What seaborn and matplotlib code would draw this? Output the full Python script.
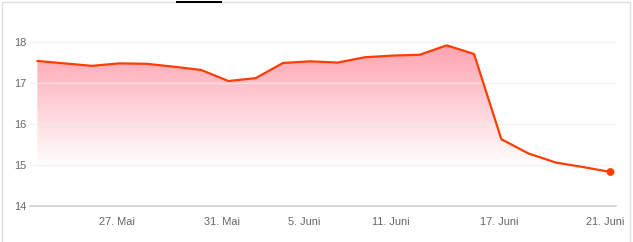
import numpy as np
import matplotlib
matplotlib.use("Agg")
import matplotlib.pyplot as plt
import seaborn as sns
from matplotlib.colors import LinearSegmentedColormap
from matplotlib.lines import Line2D
from matplotlib.patches import Rectangle

# ---- data ----
day_index = list(range(22))
prices = [17.54, 17.48, 17.42, 17.48, 17.47, 17.40, 17.32, 17.05, 17.12, 17.49,
          17.53, 17.50, 17.63, 17.67, 17.69, 17.92, 17.71, 15.63, 15.28, 15.06,
          14.95, 14.83]
tick_positions = [2.91, 6.77, 9.77, 12.95, 16.92, 20.8]
tick_labels = ["27. Mai", "31. Mai", "5. Juni", "11. Juni", "17. Juni", "21. Juni"]
y_ticks = [14, 15, 16, 17, 18]

sns.set_style("white")
plt.rcParams['font.family'] = ['Liberation Sans', 'DejaVu Sans']

W, H = 633, 242
fig = plt.figure(figsize=(W / 100, H / 100), dpi=100)
ax = fig.add_axes([30 / W, 36 / H, 585.7 / W, (206 - 17.5) / H])

xmin, xmax = -0.267, 21.19
ymin, ymax = 14, 18.6

# gradient fill under the line
cmap = LinearSegmentedColormap.from_list("g", ["#ffffff", "#ffa3b0"])
grad = np.linspace(0, 1, 256).reshape(-1, 1)
im = ax.imshow(grad, extent=[xmin, xmax, 14.95, max(prices)], origin="lower",
               cmap=cmap, aspect="auto", zorder=1, interpolation="bilinear")
poly = ax.fill_between(day_index, prices, ymin, color="none", lw=0)
im.set_clip_path(poly.get_paths()[0], transform=ax.transData)

# gridlines
for v in y_ticks[1:]:
    ax.axhline(v, color="#eeeeee", lw=1, alpha=0.7, zorder=2)

sns.lineplot(x=day_index, y=prices, color="#ff3d00", lw=1.6, ax=ax, zorder=3)
sns.scatterplot(x=[day_index[-1]], y=[prices[-1]], color="#ff3d00", s=32,
                edgecolor="none", ax=ax, zorder=4)

ax.set_xlim(xmin, xmax)
ax.set_ylim(ymin, ymax)
ax.set_xticks(tick_positions)
ax.set_xticklabels(tick_labels)
ax.set_yticks(y_ticks)
ax.set_yticklabels([str(v) for v in y_ticks])
ax.tick_params(axis="x", length=5.8, width=0.8, color="#cccccc", pad=2,
               labelsize=7.9, labelcolor="#666666")
ax.tick_params(axis="y", length=0, pad=2.5, labelsize=7.9, labelcolor="#666666")
for s in ["left", "top", "right"]:
    ax.spines[s].set_visible(False)
ax.spines["bottom"].set_color("#cccccc")
ax.spines["bottom"].set_linewidth(1.1)
ax.set_xlabel("")
ax.set_ylabel("")

# frame and tab indicator
bc = "#e0e0e0"
fig.add_artist(Line2D([1.5 / W, 1.5 / W], [0, 1 - 1.5 / H], color=bc, lw=1, zorder=1))
fig.add_artist(Line2D([1.5 / W, 629.7 / W], [1 - 1.5 / H, 1 - 1.5 / H], color=bc, lw=1, zorder=1))
fig.add_artist(Line2D([629.7 / W, 629.7 / W], [0, 1 - 1.5 / H], color=bc, lw=1, zorder=1))
fig.add_artist(Rectangle((176 / W, 1 - 3 / H), 46 / W, 2 / H, facecolor="black",
                         edgecolor="none", transform=fig.transFigure, zorder=5))

fig.savefig("out.png", dpi=100)
